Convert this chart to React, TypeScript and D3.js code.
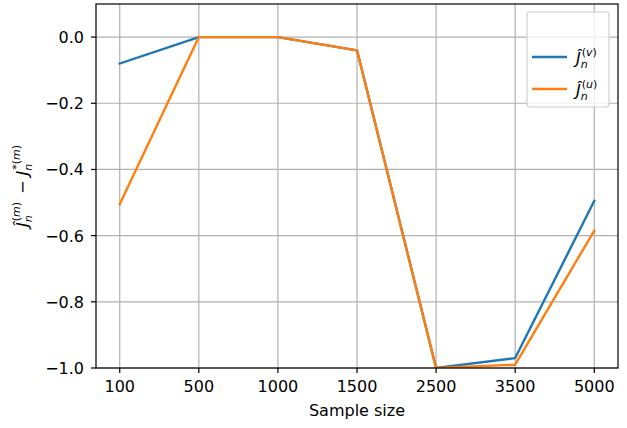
import React from "react";
import * as d3 from "d3";

const categories = ["100", "500", "1000", "1500", "2500", "3500", "5000"];
const seriesV = [-0.08, 0.0, 0.0, -0.04, -1.0, -0.97, -0.495];
const seriesU = [-0.505, 0.0, 0.0, -0.04, -1.0, -0.99, -0.585];
const yTicks = [0.0, -0.2, -0.4, -0.6, -0.8, -1.0];

const W = 627, H = 428;
const L = 96, R = 618, T = 4, B = 368;
const FONT = "DejaVu Sans, sans-serif";
const FS = 16;
const SFS = 11;

export default function App() {
  const x = d3.scaleLinear().domain([-0.3, categories.length - 1 + 0.3]).range([L, R]);
  const y = d3.scaleLinear().domain([-1.0, 0.1]).range([B, T]);
  const line = d3.line<number>().x((_, i) => x(i)).y((d) => y(d));
  const fmt = (v: number) => (v < 0 ? "\u2212" : "") + Math.abs(v).toFixed(1);
  return (
    <svg width={W} height={H} style={{ position: "absolute", left: 0, top: 0 }} fontFamily={FONT}>
      <rect x={0} y={0} width={W} height={H} fill="white" />
      <defs>
        <clipPath id="clip"><rect x={L} y={T} width={R - L} height={B - T} /></clipPath>
      </defs>
      {categories.map((c, i) => (
        <line key={"gx" + c} x1={x(i)} x2={x(i)} y1={T} y2={B} stroke="#b0b0b0" strokeWidth={1.2} />
      ))}
      {yTicks.map((t) => (
        <line key={"gy" + t} x1={L} x2={R} y1={y(t)} y2={y(t)} stroke="#b0b0b0" strokeWidth={1.2} />
      ))}
      <g clipPath="url(#clip)">
        <path d={line(seriesV) || ""} fill="none" stroke="#1f77b4" strokeWidth={2.4} strokeLinejoin="round" strokeLinecap="square" />
        <path d={line(seriesU) || ""} fill="none" stroke="#ff7f0e" strokeWidth={2.4} strokeLinejoin="round" strokeLinecap="square" />
      </g>
      <rect x={L} y={T} width={R - L} height={B - T} fill="none" stroke="black" strokeWidth={1.2} />
      {categories.map((c, i) => (
        <g key={"tx" + c}>
          <line x1={x(i)} x2={x(i)} y1={B} y2={B + 5} stroke="black" strokeWidth={1.2} />
          <text x={x(i)} y={392} textAnchor="middle" fontSize={FS} fill="black">{c}</text>
        </g>
      ))}
      {yTicks.map((t) => (
        <g key={"ty" + t}>
          <line x1={L - 5} x2={L} y1={y(t)} y2={y(t)} stroke="black" strokeWidth={1.2} />
          <text x={L - 12} y={y(t) + 6} textAnchor="end" fontSize={FS} fill="black">{fmt(t)}</text>
        </g>
      ))}
      <text x={(L + R) / 2} y={416} textAnchor="middle" fontSize={FS} fill="black">Sample size</text>
      <g transform={`translate(28, ${(T + B) / 2}) rotate(-90)`}>
        <text textAnchor="middle" fontSize={FS} fill="black">
          <tspan fontStyle="italic">Ĵ</tspan>
          <tspan fontSize={SFS} fontStyle="italic" dy={4}>n</tspan>
          <tspan fontSize={SFS} dx={-6} dy={-12}>(<tspan fontStyle="italic">m</tspan>)</tspan>
          <tspan dy={8} dx={3}>{" \u2212 "}</tspan>
          <tspan fontStyle="italic">J</tspan>
          <tspan fontSize={SFS} fontStyle="italic" dy={4}>n</tspan>
          <tspan fontSize={SFS} dx={-6} dy={-12}>*(<tspan fontStyle="italic">m</tspan>)</tspan>
        </text>
      </g>
      <rect x={527} y={12} width={82} height={95} rx={3} fill="white" fillOpacity={0.8} stroke="#cccccc" strokeWidth={1.1} />
      <line x1={532} x2={567} y1={57} y2={57} stroke="#1f77b4" strokeWidth={2.4} />
      <line x1={532} x2={567} y1={89} y2={89} stroke="#ff7f0e" strokeWidth={2.4} />
      <text x={576} y={64} fontSize={FS} fill="black">
        <tspan fontStyle="italic">Ĵ</tspan>
        <tspan fontSize={SFS} fontStyle="italic" dy={4}>n</tspan>
        <tspan fontSize={SFS} dx={-6} dy={-12}>(<tspan fontStyle="italic">v</tspan>)</tspan>
      </text>
      <text x={576} y={96} fontSize={FS} fill="black">
        <tspan fontStyle="italic">Ĵ</tspan>
        <tspan fontSize={SFS} fontStyle="italic" dy={4}>n</tspan>
        <tspan fontSize={SFS} dx={-6} dy={-12}>(<tspan fontStyle="italic">u</tspan>)</tspan>
      </text>
    </svg>
  );
}
